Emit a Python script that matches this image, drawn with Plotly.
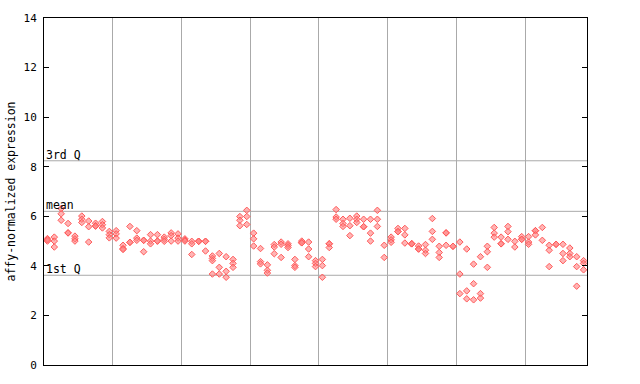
import plotly.graph_objects as go

# Expression values per sample column (replicates)
columns = [
    [5.10, 5.00, 5.05], [5.16, 5.00, 4.76], [6.31, 6.10, 5.84], [5.71, 5.33, 5.33],
    [5.20, 5.09, 5.00], [6.01, 5.88, 5.75], [5.81, 5.58, 4.96], [5.72, 5.62, 5.60],
    [5.79, 5.66, 5.53], [5.39, 5.26, 5.13], [5.42, 5.29, 5.12], [4.83, 4.70, 4.66],
    [5.59, 4.95, 4.95], [5.42, 5.12, 5.03], [5.03, 5.03, 4.57], [5.26, 5.00, 4.89],
    [5.26, 5.00, 5.00], [5.16, 5.07, 4.99], [5.33, 5.22, 5.00], [5.29, 5.12, 5.00],
    [5.09, 5.04, 5.00], [4.99, 4.89, 4.46], [4.99, 4.99, 4.99], [4.99, 4.99, 4.60],
    [4.40, 4.30, 4.21, 3.67], [4.50, 3.94, 3.67], [4.37, 3.78, 3.54], [4.26, 4.10, 3.94],
    [5.99, 5.84, 5.62], [6.24, 5.99, 5.67], [5.32, 5.09, 4.80], [4.70, 4.17, 4.08],
    [4.04, 3.82, 3.71], [4.86, 4.76, 4.49], [4.96, 4.87, 4.34], [4.89, 4.82, 4.74],
    [4.26, 4.01, 3.94], [5.00, 4.93, 4.93], [4.96, 4.68, 4.37], [4.21, 4.10, 3.97],
    [4.26, 4.01, 3.54], [4.89, 4.89, 4.74], [6.27, 5.97, 5.88], [5.88, 5.71, 5.59],
    [5.92, 5.62, 5.22], [6.01, 5.88, 5.75], [5.88, 5.58, 5.58], [5.88, 5.32, 5.00],
    [6.24, 5.88, 5.59], [4.83, 4.34], [5.16, 5.05, 4.95], [5.51, 5.38, 5.38],
    [5.51, 5.25, 4.92], [4.89, 4.89, 4.89], [4.80, 4.68, 4.68], [4.86, 4.63, 4.50],
    [5.91, 5.39, 5.07], [4.79, 4.54, 4.34], [5.33, 5.33, 4.83], [4.79, 4.79],
    [4.96, 3.67, 2.88], [4.68, 2.99, 2.67], [4.07, 3.28, 2.63], [4.37, 2.88, 2.70],
    [4.79, 4.57, 3.94], [5.55, 5.32, 5.16], [5.16, 4.89, 4.89], [5.59, 5.38, 5.07],
    [4.99, 4.76], [5.18, 5.07, 5.07], [5.18, 4.96, 4.87], [5.42, 5.42, 5.25],
    [5.55, 5.03], [4.83, 4.63, 3.97], [4.87, 4.87], [4.87, 4.50, 4.21],
    [4.72, 4.50, 4.37], [4.37, 3.97, 3.18], [4.21, 4.10, 3.84],
]

q3_value = 8.24
mean_value = 6.2
q1_value = 3.62
ref_labels = ["3rd Q", "mean", "1st Q"]
y_ticks = [0, 2, 4, 6, 8, 10, 12, 14]
x_grid = [10, 20, 30, 40, 50, 60, 70]

xs, ys = [], []
for i, col in enumerate(columns):
    for v in col:
        xs.append(i + 0.5)
        ys.append(v)

red = "#ff5a5a"
grid = "#aaaaaa"
font_mono = "DejaVu Sans Mono"

fig = go.Figure()
fig.add_trace(go.Scatter(
    x=xs, y=ys, mode="markers",
    marker=dict(symbol="diamond", size=5, color="rgba(255,130,130,0.6)",
                line=dict(color=red, width=1)),
    hoverinfo="skip", showlegend=False,
))

for val, lab in zip([q3_value, mean_value, q1_value], ref_labels):
    fig.add_shape(type="line", xref="paper", x0=0, x1=1, y0=val, y1=val,
                  line=dict(color=grid, width=1), layer="below")
    fig.add_annotation(x=0, xref="paper", y=val, yref="y", text=lab,
                       showarrow=False, xanchor="left", yanchor="bottom",
                       xshift=0, yshift=-3,
                       font=dict(family=font_mono, size=11.5, color="black"))

fig.add_annotation(x=-0.0626, xref="paper", y=0.5, yref="paper",
                   text="affy-normalized expression", textangle=-90,
                   showarrow=False, xanchor="center", yanchor="middle",
                   font=dict(family=font_mono, size=11.5, color="black"))

fig.update_layout(
    width=640, height=384,
    margin=dict(l=44, r=53, t=14, b=15),
    plot_bgcolor="white", paper_bgcolor="white",
    xaxis=dict(range=[0, 79], tickvals=x_grid, showticklabels=False, ticks="",
               showgrid=True, gridcolor=grid, gridwidth=1, zeroline=False,
               showline=True, linecolor="black", linewidth=1, mirror=True),
    yaxis=dict(range=[0, 14], tickvals=y_ticks, ticks="inside", ticklen=5,
               tickcolor="black", showgrid=False, zeroline=False,
               showline=True, linecolor="black", linewidth=1, mirror="ticks",
               ticklabelstandoff=4,
               tickfont=dict(family=font_mono, size=11, color="black")),
)

fig.write_html("out.html")
